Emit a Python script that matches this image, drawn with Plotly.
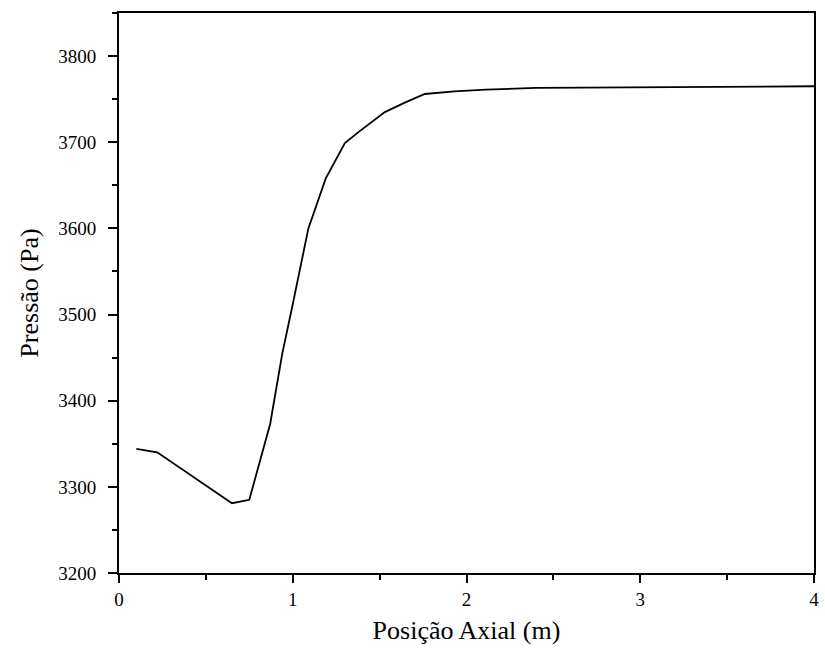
import plotly.graph_objects as go

posicao = [0.10, 0.22, 0.65, 0.75, 0.87, 0.94, 1.00, 1.09, 1.19, 1.30, 1.38, 1.53, 1.645, 1.76, 1.93, 2.11, 2.40, 3.00, 4.00]
pressao = [3344, 3340, 3281, 3285, 3373, 3455, 3512, 3600, 3658, 3699, 3712, 3735, 3746, 3756, 3759, 3761, 3763, 3764, 3765]

x_ticks = [0, 1, 2, 3, 4]
y_ticks = [3200, 3300, 3400, 3500, 3600, 3700, 3800]

fig = go.Figure()
fig.add_trace(go.Scatter(x=posicao, y=pressao, mode="lines",
                         line=dict(color="black", width=1.8), showlegend=False))

font = dict(family="Liberation Serif", color="black")

fig.update_layout(
    width=825, height=666,
    margin=dict(l=119, r=6, t=13, b=93),
    paper_bgcolor="white", plot_bgcolor="white",
    font=dict(**font, size=19),
    xaxis=dict(
        range=[0, 4], tickvals=x_ticks, ticktext=[str(v) for v in x_ticks],
        showgrid=False, zeroline=False, showline=True, linecolor="black", linewidth=2,
        mirror=True, ticks="outside", ticklen=8, tickwidth=2, tickcolor="black",
        minor=dict(dtick=0.5, ticks="outside", ticklen=5, tickwidth=1.5, tickcolor="black"),
        title=dict(text="Posição Axial (m)", font=dict(**font, size=26), standoff=12),
        tickfont=dict(**font, size=19),
    ),
    yaxis=dict(
        range=[3200, 3850], tickvals=y_ticks, ticktext=[str(v) for v in y_ticks],
        showgrid=False, zeroline=False, showline=True, linecolor="black", linewidth=2,
        mirror=True, ticks="outside", ticklen=9, tickwidth=2, tickcolor="black",
        ticklabelstandoff=8,
        minor=dict(dtick=50, ticks="outside", ticklen=5, tickwidth=1.5, tickcolor="black"),
        title=dict(text="Pressão (Pa)", font=dict(**font, size=26), standoff=12),
        tickfont=dict(**font, size=19),
    ),
)

fig.write_html("out.html")
